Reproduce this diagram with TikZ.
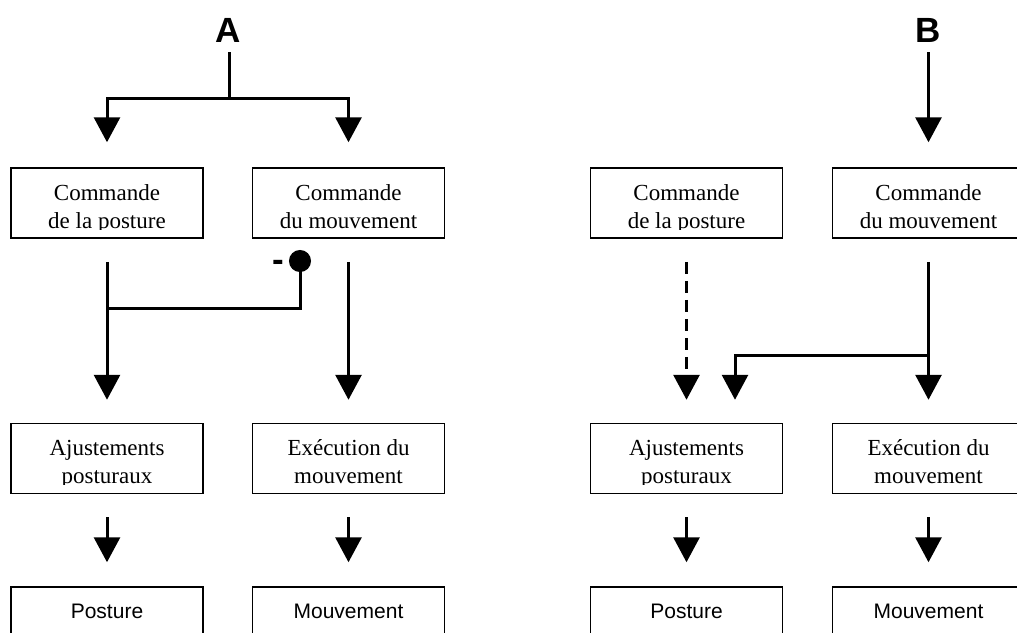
\documentclass[tikz,border=0pt]{standalone}
\usepackage{fontspec}
\setmainfont{Liberation Serif}
\setsansfont{Liberation Sans}
\usetikzlibrary{arrows.meta}
\begin{document}
\begin{tikzpicture}[x=1pt,y=-1pt,
  box/.style={draw, line width=1.5pt, minimum width=192pt, minimum height=70pt, inner sep=0pt},
  ser/.style={font=\fontsize{23}{28}\selectfont, align=center, inner sep=0pt},
  san/.style={font=\fontsize{21}{25}\sffamily\selectfont, inner sep=0pt, anchor=base},
  lbl/.style={font=\fontsize{35}{40}\sffamily\bfseries\selectfont, inner sep=0pt, anchor=base},
  ln/.style={line width=3pt},
  arr/.style={line width=3pt, -{Triangle[width=26pt,length=25pt]}},
]
\useasboundingbox (0,0) rectangle (1017,632);
\clip (0,0) rectangle (1017,632);

% boxes
\node[box] (c1) at (107,203) {};
\node[box] (c2) at (348.5,203) {};
\node[box] (c3) at (686.5,203) {};
\node[box] (c4) at (928.5,203) {};
\node[box] (a1) at (107,458.5) {};
\node[box] (a2) at (348.5,458.5) {};
\node[box] (a3) at (686.5,458.5) {};
\node[box] (a4) at (928.5,458.5) {};
\node[box] (p1) at (107,622) {};
\node[box] (p2) at (348.5,622) {};
\node[box] (p3) at (686.5,622) {};
\node[box] (p4) at (928.5,622) {};

% texts (clipped at the bottom like the original text boxes)
\begin{scope}
\clip (0,160) rectangle (1017,229.5);
\node[ser] (c1t) at ([yshift=-5.4pt]c1.center) {\strut Commande\\\strut de la posture};
\node[ser] (c2t) at ([yshift=-5.4pt]c2.center) {\strut Commande\\\strut du mouvement};
\node[ser] (c3t) at ([yshift=-5.4pt]c3.center) {\strut Commande\\\strut de la posture};
\node[ser] (c4t) at ([yshift=-5.4pt]c4.center) {\strut Commande\\\strut du mouvement};
\end{scope}
\begin{scope}
\clip (0,415) rectangle (1017,484.5);
\node[ser] (a1t) at ([yshift=-5.4pt]a1.center) {\strut Ajustements\\\strut posturaux};
\node[ser] (a2t) at ([yshift=-5.4pt]a2.center) {\strut Exécution du\\\strut mouvement};
\node[ser] (a3t) at ([yshift=-5.4pt]a3.center) {\strut Ajustements\\\strut posturaux};
\node[ser] (a4t) at ([yshift=-5.4pt]a4.center) {\strut Exécution du\\\strut mouvement};
\end{scope}
\node[san] (p1t) at (107,618) {Posture};
\node[san] (p2t) at (348.5,618) {Mouvement};
\node[san] (p3t) at (686.5,618) {Posture};
\node[san] (p4t) at (928.5,618) {Mouvement};

% labels
\node[lbl] (lA) at (228,42) {A};
\node[lbl] (lB) at (928.5,42) {B};
\node[lbl] (minus) at (278,271) {-};

% A connectors
\coordinate (jA) at (229,98);
\draw[ln, shorten <=10pt] (lA.south -| jA) -- (jA);
\draw[arr, shorten >=25pt] (jA) -| (c1);
\draw[arr, shorten >=25pt] (jA) -| (c2);
\draw[arr, shorten <=23pt, shorten >=23pt] (c1) -- (a1);
\draw[arr, shorten <=23pt, shorten >=23pt] (c2) -- (a2);
\coordinate (jx) at (107,308);
\coordinate (inh) at (300,250);
\draw[ln, -{Circle[length=22pt]}] (jx) -| (inh);
\draw[arr, shorten <=23pt, shorten >=24pt] (a1) -- (p1);
\draw[arr, shorten <=23pt, shorten >=24pt] (a2) -- (p2);

% B connectors
\draw[arr, shorten <=10pt, shorten >=25pt] (lB) -- (c4);
\draw[arr, dash pattern=on 12pt off 7pt, shorten <=23pt, shorten >=23pt] (c3) -- (a3);
\draw[arr, shorten <=23pt, shorten >=23pt] (c4) -- (a4);
\coordinate (jB) at (928.5,355);
\draw[arr, shorten >=23pt] (jB) -| ([xshift=48.5pt]a3.north);
\draw[arr, shorten <=23pt, shorten >=24pt] (a3) -- (p3);
\draw[arr, shorten <=23pt, shorten >=24pt] (a4) -- (p4);
\end{tikzpicture}
\end{document}
